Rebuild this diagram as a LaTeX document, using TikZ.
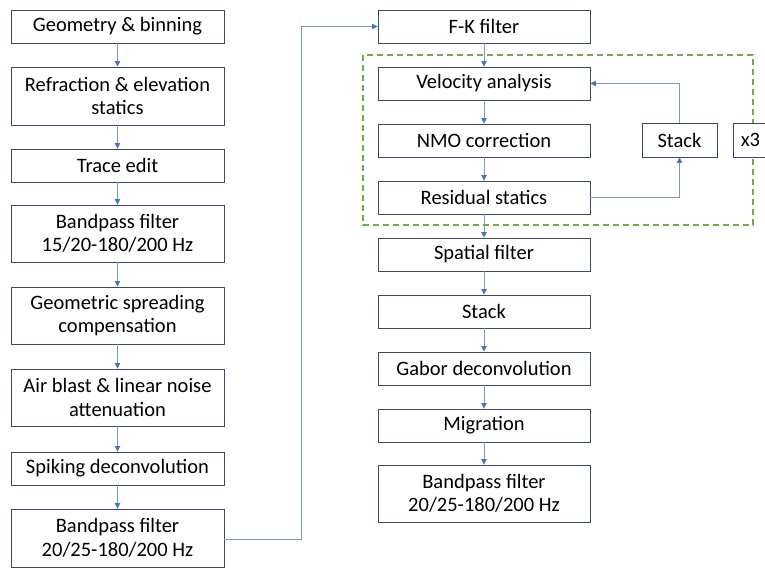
\documentclass[tikz,border=0pt]{standalone}
\usepackage{fontspec}
\setmainfont{Carlito}
\usetikzlibrary{arrows.meta,positioning}
\definecolor{boxline}{HTML}{3B4A63}
\definecolor{conn}{HTML}{7F97C4}
\definecolor{tip}{HTML}{4472C4}
\definecolor{dgreen}{HTML}{70AD47}
\tikzset{
  pbox/.style={draw=boxline, line width=0.9pt, fill=white, align=center, inner sep=0pt,
    font=\fontsize{20.5}{23.5}\selectfont},
  conn/.style={draw=conn, line width=0.8pt, -{Triangle[width=5.5pt,length=5.5pt,color=tip]}},
  plain/.style={draw=conn, line width=0.8pt},
}
\newcommand{\bx}[6]{\node[pbox, minimum width=#4-#2, minimum height=#5-#3] (#1) at ({(#2+#4)/2},{-(#3+#5)/2}) {#6};}
\begin{document}
\begin{tikzpicture}[x=1pt,y=1pt]
\useasboundingbox (0,0) rectangle (765,-568);
% dashed group
\draw[dgreen, line width=1.3pt, dash pattern=on 6pt off 4pt] (363,-55) rectangle (753,-225);
% left column
\bx{a1}{11}{10}{224}{43}{Geometry \& binning}
\bx{a2}{11}{67}{224}{125}{Refraction \& elevation\\statics}
\bx{a3}{11}{149}{224}{182}{Trace edit}
\bx{a4}{11}{205}{224}{262}{Bandpass filter\\15/20-180/200 Hz}
\bx{a5}{11}{287}{224}{344}{Geometric spreading\\compensation}
\bx{a6}{11}{369}{224}{426}{Air blast \& linear noise\\attenuation}
\bx{a7}{11}{452}{224}{485}{Spiking deconvolution}
\bx{a8}{11}{509}{224}{567}{Bandpass filter\\20/25-180/200 Hz}
% right column
\bx{b1}{378}{10}{590}{43}{F-K filter}
\bx{b2}{378}{67}{590}{100}{Velocity analysis}
\bx{b3}{378}{124}{590}{157}{NMO correction}
\bx{b4}{378}{181}{590}{214}{Residual statics}
\bx{b5}{378}{238}{590}{271}{Spatial filter}
\bx{b6}{378}{295}{590}{328}{Stack}
\bx{b7}{378}{352}{590}{385}{Gabor deconvolution}
\bx{b8}{378}{409}{590}{442}{Migration}
\bx{b9}{378}{465}{590}{522}{Bandpass filter\\20/25-180/200 Hz}
\bx{st}{642}{123}{717}{157}{Stack}
\node[pbox, minimum width=40, minimum height=34, anchor=west] (x3) at (733,-140) {\hspace*{-6pt}x3};
% connectors
\foreach \u/\v in {a1/a2,a2/a3,a3/a4,a4/a5,a5/a6,a6/a7,a7/a8,b1/b2,b2/b3,b3/b4,b4/b5,b5/b6,b6/b7,b7/b8,b8/b9}
  \draw[conn] (\u.south) -- (\v.north);
\coordinate (k1) at (301,-539);
\coordinate (k2) at (301,-26.5);
\draw[conn] (a8.east |- k1) -- (k1) -- (k2) -- (b1.west);
\draw[conn] (b4.east) -| (st.south);
\draw[conn] (st.north) |- (b2.east);
\end{tikzpicture}
\end{document}
